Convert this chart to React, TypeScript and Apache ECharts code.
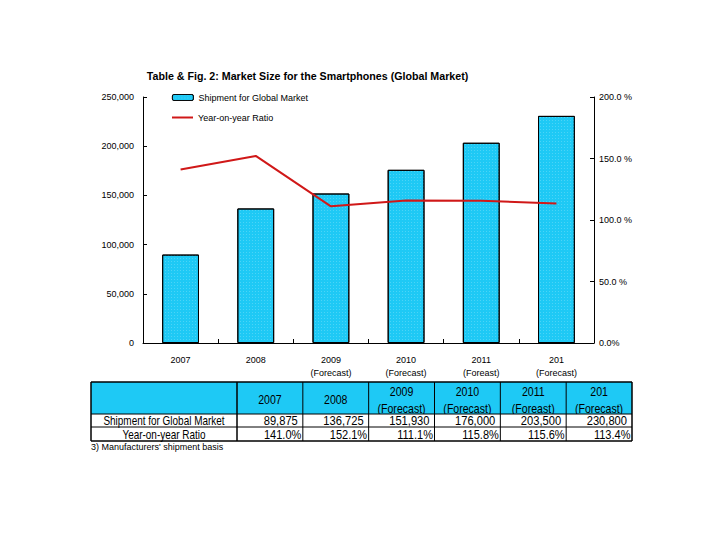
import React, { useEffect, useRef } from "react";
import * as echarts from "echarts";

const titleText = "Table & Fig. 2: Market Size for the Smartphones (Global Market)";
const categories = ["2007", "2008", "2009\n(Forecast)", "2010\n(Forecast)", "2011\n(Foreast)", "201\n(Forecast)"];
const shipments = [89875, 136725, 151930, 176000, 203500, 230800];
const ratios = [141.0, 152.1, 111.1, 115.8, 115.6, 113.4];
const seriesNames = ["Shipment for Global Market", "Year-on-year Ratio"];
const rowLabels = ["Shipment for Global Market", "Year-on-year Ratio"];
const footnote = "3) Manufacturers' shipment basis";
const leftAxisTicks = [0, 50000, 100000, 150000, 200000, 250000];
const rightAxisTicks = [0, 50, 100, 150, 200];

const CYAN = "#1ec9f5";
const RED = "#d01818";
const FONT = "'Liberation Sans', Arial, sans-serif";

function fmtNum(v: number) {
  return v.toLocaleString("en-US");
}
function fmtPct(v: number) {
  return v.toFixed(1) + "%";
}

function tableText(text: string, x: number, y: number, align: string, sx: number, lineHeight?: number) {
  return {
    type: "text",
    x,
    y,
    scaleX: sx,
    style: {
      text,
      font: "12px " + FONT,
      fill: "#000",
      textAlign: align,
      textVerticalAlign: "middle",
      lineHeight: lineHeight || 14,
    },
  };
}

function buildTable(): any[] {
  const L = 91;
  const C = 237;
  const R = 632;
  const rowsY = [382, 414, 427, 441];
  const n = categories.length;
  const cw = (R - C) / n;
  const els: any[] = [];
  els.push({ type: "rect", shape: { x: L, y: rowsY[0], width: R - L, height: rowsY[1] - rowsY[0] }, style: { fill: CYAN } });
  categories.forEach((c, i) => {
    els.push(tableText(c, C + cw * (i + 0.5), (rowsY[0] + rowsY[1]) / 2 + 2, "center", 0.88, 17));
  });
  // body background (clips header overflow)
  els.push({ type: "rect", shape: { x: L, y: rowsY[1], width: R - L, height: rowsY[3] - rowsY[1] }, style: { fill: "#fff" } });
  rowLabels.forEach((t, r) => {
    els.push(tableText(t, (L + C) / 2, (rowsY[r + 1] + rowsY[r + 2]) / 2 + 0.5, "center", 0.83));
  });
  shipments.forEach((v, i) => {
    els.push(tableText(fmtNum(v), C + cw * (i + 1) - 5, (rowsY[1] + rowsY[2]) / 2 + 0.5, "right", 0.93));
  });
  ratios.forEach((v, i) => {
    els.push(tableText(fmtPct(v), C + cw * (i + 1) - 1.5, (rowsY[2] + rowsY[3]) / 2 + 0.5, "right", 0.92));
  });
  rowsY.forEach((y, k) => {
    els.push({ type: "line", shape: { x1: L, y1: y, x2: R, y2: y }, style: { stroke: "#000", lineWidth: k === 0 || k === 3 ? 1.3 : 1 } });
  });
  const xs = [L, C];
  for (let i = 1; i <= n; i++) xs.push(C + cw * i);
  xs.forEach((x, k) => {
    els.push({ type: "line", shape: { x1: x, y1: rowsY[0], x2: x, y2: rowsY[3] }, style: { stroke: "#000", lineWidth: k <= 1 || k === xs.length - 1 ? 1.5 : 1 } });
  });
  return els;
}

export default function App() {
  const ref = useRef<HTMLDivElement>(null);
  useEffect(() => {
    if (!ref.current) return;
    const chart = echarts.init(ref.current, null, { renderer: "svg" });
    const labelStyle = { color: "#000", fontSize: 9, fontFamily: FONT };
    chart.setOption({
      animation: false,
      backgroundColor: "#fff",
      grid: { left: 143, right: 126, top: 97, bottom: 197, containLabel: false },
      legend: [
        {
          data: [seriesNames[0]],
          left: 167,
          top: 88,
          itemWidth: 21,
          itemHeight: 6,
          itemStyle: { borderWidth: 0.8 },
          textStyle: { ...labelStyle },
        },
        {
          data: [{ name: seriesNames[1], icon: "rect" }],
          left: 167,
          top: 108,
          itemWidth: 21,
          itemHeight: 2,
          textStyle: { ...labelStyle },
        },
      ],
      xAxis: {
        type: "category",
        data: categories,
        boundaryGap: true,
        axisLine: { show: true, lineStyle: { color: "#000", width: 1 } },
        axisTick: { show: true, inside: true, length: 4, alignWithLabel: false, lineStyle: { color: "#000" } },
        axisLabel: { ...labelStyle, interval: 0, margin: 10, lineHeight: 13 },
        splitLine: { show: false },
      },
      yAxis: [
        {
          type: "value",
          min: leftAxisTicks[0],
          max: leftAxisTicks[leftAxisTicks.length - 1],
          interval: leftAxisTicks[1] - leftAxisTicks[0],
          axisLine: { show: true, lineStyle: { color: "#000", width: 1 } },
          axisTick: { show: true, inside: true, length: 4, lineStyle: { color: "#000" } },
          axisLabel: { ...labelStyle, margin: 9, formatter: (v: number) => fmtNum(v) },
          splitLine: { show: false },
        },
        {
          type: "value",
          position: "right",
          min: rightAxisTicks[0],
          max: rightAxisTicks[rightAxisTicks.length - 1],
          interval: rightAxisTicks[1] - rightAxisTicks[0],
          axisLine: { show: true, lineStyle: { color: "#000", width: 1 } },
          axisTick: { show: true, inside: true, length: 4, lineStyle: { color: "#000" } },
          axisLabel: { ...labelStyle, margin: 5, formatter: (v: number) => (v === 0 ? "0.0%" : v.toFixed(1) + " %") },
          splitLine: { show: false },
        },
      ],
      series: [
        {
          name: seriesNames[0],
          type: "bar",
          data: shipments,
          barWidth: "49%",
          itemStyle: {
            color: CYAN,
            borderColor: "#000",
            borderWidth: 1,
            decal: {
              symbol: "rect",
              symbolSize: 1,
              color: "rgba(255,255,255,0.2)",
              dashArrayX: [1, 2],
              dashArrayY: [1, 2],
            },
          },
        },
        {
          name: seriesNames[1],
          type: "line",
          yAxisIndex: 1,
          data: ratios,
          symbol: "none",
          lineStyle: { color: RED, width: 2 },
          itemStyle: { color: RED },
        },
      ],
      graphic: [
        {
          type: "text",
          x: 307.5,
          y: 76,
          scaleX: 0.97,
          style: { text: titleText, font: "bold 11px " + FONT, fill: "#000", textAlign: "center", textVerticalAlign: "middle" },
        },
        ...buildTable(),
        {
          type: "text",
          x: 91,
          y: 447,
          style: { text: footnote, font: "9px " + FONT, fill: "#000", textAlign: "left", textVerticalAlign: "middle" },
        },
      ],
    });
    return () => chart.dispose();
  }, []);
  return <div ref={ref} style={{ position: "fixed", left: 0, top: 0, width: 720, height: 540 }} />;
}
